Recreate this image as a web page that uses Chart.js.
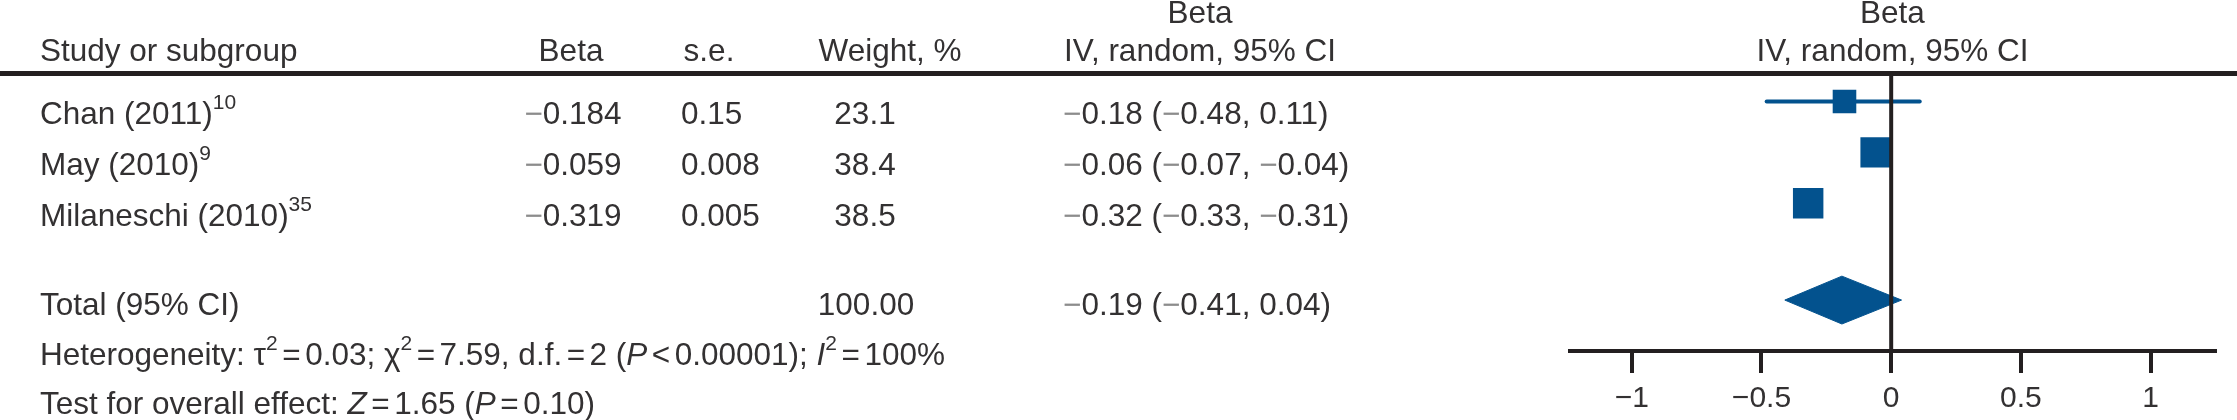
<!DOCTYPE html>
<html>
<head>
<meta charset="utf-8">
<script src="https://cdn.jsdelivr.net/npm/chart.js@4.4.1/dist/chart.umd.min.js"></script>
<style>
  html, body { margin: 0; padding: 0; background: #fff; overflow: hidden; }
  #wrap { width: 2237px; height: 420px; position: relative; }
</style>
</head>
<body>
<div id="wrap"><canvas id="c" width="2237" height="420"></canvas></div>
<script>
// ---------------- data ----------------
const studies = ['Chan (2011)', 'May (2010)', 'Milaneschi (2010)'];
const refNumbers = ['10', '9', '35'];
const betas = [-0.184, -0.059, -0.319];
const standardErrors = [0.15, 0.008, 0.005];
const weights = [23.1, 38.4, 38.5];
const estimates = [-0.18, -0.06, -0.32];
const ciLower = [-0.48, -0.07, -0.33];
const ciUpper = [0.11, -0.04, -0.31];
const totalWeight = [100];
const totalEstimate = [-0.19];
const totalLower = [-0.41];
const totalUpper = [0.04];
const axisTicks = [-1, -0.5, 0, 0.5, 1];
const heterogeneityStats = ['0.03', '7.59', '2', '0.00001', '100%'];
const overallStats = ['1.65', '0.10'];

// ---------------- layout / style ----------------
const FONT = '"Liberation Sans", Arial, sans-serif';
const TEXT = '#333132';
const MINUS = '#8c8c8c';
const BLUE = '#03528e';
const LINE = '#231f20';
const FS = 31.5, SUP_FS = 21, SUP_RAISE = 15;
const ROW_POS = [0.5, 1.5, 2.5];
const TOTAL_POS = 4.4;
const Y_MAX = 5.4;
const DIAMOND_HALF = 0.47;
const SQUARE_K = 3.47;
const OP_GAP = 4.5;

function num(v, d) {
  const s = Math.abs(v).toFixed(d);
  return v < 0 ? [{t: '\u2212', c: MINUS}, {t: s}] : [{t: s}];
}
function op(sym) { return [{gap: OP_GAP}, {t: sym}, {gap: OP_GAP}]; }
function fontFor(s) {
  const size = s.sup ? SUP_FS : (s.size || FS);
  return (s.it ? 'italic ' : '') + size + 'px ' + FONT;
}
function drawRich(ctx, segs, x, y, align) {
  let w = 0;
  const ws = segs.map(s => {
    if (s.gap) { w += s.gap; return s.gap; }
    ctx.font = fontFor(s); const m = ctx.measureText(s.t).width; w += m; return m;
  });
  let cx = align === 'center' ? x - w / 2 : (align === 'right' ? x - w : x);
  segs.forEach((s, i) => {
    if (!s.gap) {
      ctx.font = fontFor(s);
      ctx.fillStyle = s.c || TEXT;
      ctx.fillText(s.t, cx, y - (s.sup ? SUP_RAISE : 0));
    }
    cx += ws[i];
  });
}
function ciText(e, lo, hi) {
  return [...num(e, 2), {t: ' ('}, ...num(lo, 2), {t: ', '}, ...num(hi, 2), {t: ')'}];
}

const tablePlugin = {
  id: 'forestTable',
  afterDraw(chart) {
    const ctx = chart.ctx;
    const ys = chart.scales.y;
    const area = chart.chartArea;
    ctx.save();
    ctx.textBaseline = 'alphabetic';
    ctx.textAlign = 'left';
    // header rule
    ctx.fillStyle = LINE;
    ctx.fillRect(0, 71, chart.width, 5);

    const hb = 61;
    drawRich(ctx, [{t: 'Study or subgroup'}], 40, hb, 'left');
    drawRich(ctx, [{t: 'Beta'}], 571, hb, 'center');
    drawRich(ctx, [{t: 's.e.'}], 709, hb, 'center');
    drawRich(ctx, [{t: 'Weight, %'}], 890, hb, 'center');
    drawRich(ctx, [{t: 'Beta'}], 1200, 23, 'center');
    drawRich(ctx, [{t: 'IV, random, 95% CI'}], 1200, hb, 'center');
    const pc = (area.left + area.right) / 2;
    drawRich(ctx, [{t: 'Beta'}], pc, 23, 'center');
    drawRich(ctx, [{t: 'IV, random, 95% CI'}], pc, hb, 'center');

    studies.forEach((name, i) => {
      const by = ys.getPixelForValue(ROW_POS[i]) + 22.5;
      drawRich(ctx, [{t: name}, {t: refNumbers[i], sup: true}], 40, by, 'left');
      drawRich(ctx, num(betas[i], 3), 573, by, 'center');
      drawRich(ctx, [{t: String(standardErrors[i])}], 681, by, 'left');
      drawRich(ctx, [{t: weights[i].toFixed(1)}], 865, by, 'center');
      drawRich(ctx, ciText(estimates[i], ciLower[i], ciUpper[i]), 1063, by, 'left');
    });
    const tb = ys.getPixelForValue(TOTAL_POS) + 15;
    drawRich(ctx, [{t: 'Total (95% CI)'}], 40, tb, 'left');
    drawRich(ctx, [{t: totalWeight[0].toFixed(2)}], 866, tb, 'center');
    drawRich(ctx, ciText(totalEstimate[0], totalLower[0], totalUpper[0]), 1063, tb, 'left');

    const h = heterogeneityStats;
    drawRich(ctx, [
      {t: 'Heterogeneity: \u03C4'}, {t: '2', sup: true}, ...op('='), {t: h[0] + '; \u03C7'}, {t: '2', sup: true},
      ...op('='), {t: h[1] + ', d.f.'}, ...op('='), {t: h[2] + ' ('}, {t: 'P', it: true},
      ...op('<'), {t: h[3] + '); '}, {t: 'I', it: true}, {t: '2', sup: true}, ...op('='), {t: h[4]}
    ], 40, 365, 'left');
    drawRich(ctx, [
      {t: 'Test for overall effect: '}, {t: 'Z', it: true}, ...op('='), {t: overallStats[0] + ' ('},
      {t: 'P', it: true}, ...op('='), {t: overallStats[1] + ')'}
    ], 40, 414, 'left');
    ctx.restore();
  }
};

const datasets = [
  { // line of no effect
    data: [{x: 0, y: 0}, {x: 0, y: Y_MAX}],
    showLine: true, borderColor: LINE, borderWidth: 4, pointRadius: 0, order: 0
  },
  { // study squares
    data: estimates.map((e, i) => ({x: e, y: ROW_POS[i]})),
    showLine: false, pointStyle: 'rect', backgroundColor: BLUE, borderColor: BLUE,
    pointBackgroundColor: BLUE, pointBorderWidth: 0,
    pointRadius: weights.map(w => SQUARE_K * Math.sqrt(w)), order: 1
  },
  ...studies.map((s, i) => ({ // confidence intervals
    data: [{x: ciLower[i], y: ROW_POS[i]}, {x: ciUpper[i], y: ROW_POS[i]}],
    showLine: true, borderColor: BLUE, borderWidth: 4, borderCapStyle: 'round', pointRadius: 0, order: 2
  })),
  { // diamond upper half
    data: [{x: totalLower[0], y: TOTAL_POS}, {x: totalEstimate[0], y: TOTAL_POS - DIAMOND_HALF}, {x: totalUpper[0], y: TOTAL_POS}],
    showLine: true, borderColor: BLUE, borderWidth: 1, pointRadius: 0, tension: 0, order: 3
  },
  { // diamond lower half
    data: [{x: totalLower[0], y: TOTAL_POS}, {x: totalEstimate[0], y: TOTAL_POS + DIAMOND_HALF}, {x: totalUpper[0], y: TOTAL_POS}],
    showLine: true, borderColor: BLUE, borderWidth: 1, pointRadius: 0, tension: 0,
    fill: '-1', backgroundColor: BLUE, order: 3
  }
];

new Chart(document.getElementById('c'), {
  type: 'scatter',
  data: { datasets },
  plugins: [tablePlugin],
  options: {
    responsive: false,
    animation: false,
    devicePixelRatio: 1,
    layout: { padding: { left: 1569.5, right: 16.4, top: 76, bottom: -5 } },
    plugins: { legend: { display: false }, tooltip: { enabled: false } },
    scales: {
      x: {
        type: 'linear', min: -1.24, max: 1.25,
        afterBuildTicks: (scale) => { scale.ticks = axisTicks.map(v => ({value: v})); },
        border: { display: true, color: LINE, width: 4 },
        grid: { display: true, drawOnChartArea: false, drawTicks: true, tickLength: 22, lineWidth: 4, color: LINE, tickColor: LINE },
        ticks: {
          padding: 8, color: TEXT, font: { family: FONT, size: 30 },
          autoSkip: false, maxRotation: 0,
          callback: (v) => (v < 0 ? '\u2212' + Math.abs(v) : String(v))
        }
      },
      y: { type: 'linear', min: 0, max: Y_MAX, reverse: true, display: false }
    }
  }
});
</script>
</body>
</html>
